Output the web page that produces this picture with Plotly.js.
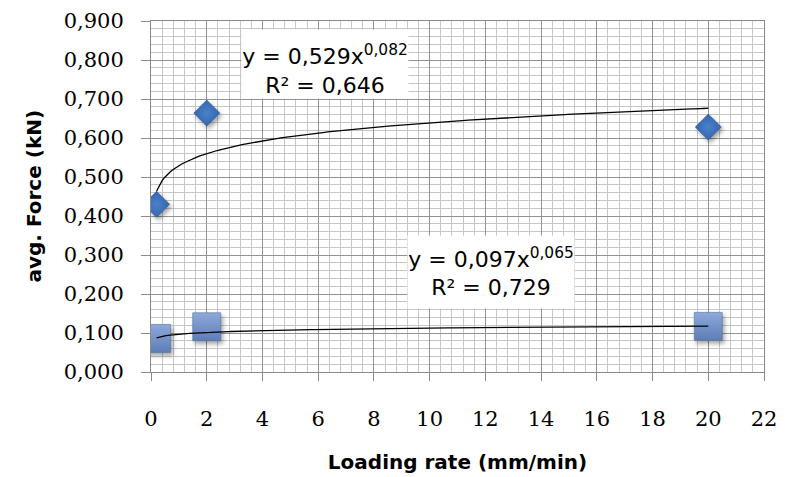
<!DOCTYPE html>
<html>
<head>
<meta charset="utf-8">
<script src="https://cdn.plot.ly/plotly-3.0.1.min.js"></script>
<style>
  html, body { margin: 0; padding: 0; background: #ffffff; }
  #chart { width: 792px; height: 477px; }
  /* soft drop shadow under the data markers */
  #chart .scatterlayer .points path { filter: drop-shadow(2px 3px 2px rgba(0,0,0,0.35)); }
</style>
</head>
<body>
<div id="chart"></div>
<script>
// Loading rate (mm/min)
const loadingRate = [0.2, 2, 20];
// average maximum force (kN)
const forceUpper = [0.430, 0.664, 0.628];
// average force of the second series (kN)
const forceLower = [0.086, 0.116, 0.117];

// power-law trendlines y = a * x^b, as reported on the chart
const fitUpper = { a: 0.529, b: 0.082 };
const fitLower = { a: 0.097, b: 0.065 };
const fitUpperLabel = 'y = 0,529x<sup>0,082</sup><br>R² = 0,646';
const fitLowerLabel = 'y = 0,097x<sup>0,065</sup><br>R² = 0,729';

const xTitle = 'Loading rate (mm/min)';
const yTitle = 'avg. Force (kN)';

const xTicks = [0, 2, 4, 6, 8, 10, 12, 14, 16, 18, 20, 22];
const yTicks = [0, 0.1, 0.2, 0.3, 0.4, 0.5, 0.6, 0.7, 0.8, 0.9];

// sample a fitted power curve across the measured range of x
function powerCurve(fit, xs) {
  const lo = Math.min(...xs), hi = Math.max(...xs);
  const n = 200, px = [], py = [];
  for (let i = 0; i <= n; i++) {
    const x = lo + (hi - lo) * i / n;
    px.push(x);
    py.push(fit.a * Math.pow(x, fit.b));
  }
  return { x: px, y: py };
}

const curveUpper = powerCurve(fitUpper, loadingRate);
const curveLower = powerCurve(fitLower, loadingRate);

const traces = [
  {
    x: loadingRate, y: forceUpper, type: 'scatter', mode: 'markers',
    marker: { symbol: 'diamond', size: 20, color: '#3466AE',
              gradient: { type: 'radial', color: '#4A82CA' },
              line: { width: 0.6, color: '#2A5592' } },
    hoverinfo: 'x+y', showlegend: false
  },
  {
    x: loadingRate, y: forceLower, type: 'scatter', mode: 'markers',
    marker: { symbol: 'square', size: 28, color: '#8EA9DA',
              gradient: { type: 'vertical', color: '#5E7DB7' },
              line: { width: 0.6, color: '#56729F' } },
    hoverinfo: 'x+y', showlegend: false
  },
  {
    x: curveUpper.x, y: curveUpper.y, type: 'scatter', mode: 'lines',
    line: { color: '#000000', width: 1.3 }, hoverinfo: 'skip', showlegend: false
  },
  {
    x: curveLower.x, y: curveLower.y, type: 'scatter', mode: 'lines',
    line: { color: '#000000', width: 1.3 }, hoverinfo: 'skip', showlegend: false
  }
];

const tickFont = { family: 'DejaVu Serif, Liberation Serif, serif', size: 21, color: '#000000' };
const titleFont = { family: 'DejaVu Sans, Liberation Sans, sans-serif', size: 20, color: '#000000', weight: 'bold' };
const noteFont = { family: 'DejaVu Sans, Liberation Sans, sans-serif', size: 22, color: '#000000' };

const layout = {
  width: 792, height: 477,
  margin: { l: 151, r: 28, t: 21, b: 105 },
  paper_bgcolor: '#ffffff', plot_bgcolor: '#ffffff',
  separators: ', ',
  xaxis: {
    range: [0, 22], tickvals: xTicks, ticktext: xTicks.map(String),
    showgrid: true, gridcolor: '#929292', gridwidth: 1,
    minor: { dtick: 0.4, showgrid: true, gridcolor: '#c6c6c6', gridwidth: 1 },
    showline: true, linecolor: '#8a8a8a', linewidth: 1, mirror: true,
    ticks: 'outside', ticklen: 8, tickcolor: '#8a8a8a',
    ticklabelstandoff: 20,
    tickfont: tickFont, zeroline: false,
    title: { text: xTitle, font: titleFont, standoff: 24 }
  },
  yaxis: {
    range: [0, 0.9], tickvals: yTicks, tickformat: '.3f',
    showgrid: true, gridcolor: '#929292', gridwidth: 1,
    minor: { dtick: 0.02, showgrid: true, gridcolor: '#c6c6c6', gridwidth: 1 },
    showline: true, linecolor: '#8a8a8a', linewidth: 1, mirror: true,
    ticks: 'outside', ticklen: 9, tickcolor: '#8a8a8a',
    ticklabelstandoff: 13,
    tickfont: tickFont, zeroline: false
  },
  annotations: [
    {
      x: 6.25, y: 0.789, xref: 'x', yref: 'y', text: fitUpperLabel,
      showarrow: false, font: noteFont, align: 'center', valign: 'bottom',
      bgcolor: '#ffffff', width: 166, height: 68, borderpad: 0
    },
    {
      x: 12.2, y: 0.257, xref: 'x', yref: 'y', text: fitLowerLabel,
      showarrow: false, font: noteFont, align: 'center',
      bgcolor: '#ffffff', width: 166, height: 72, borderpad: 0
    },
    {
      // vertical axis title, set well to the left of the tick labels
      x: 0, y: 0.5, xref: 'paper', yref: 'paper', xanchor: 'center', yanchor: 'middle',
      xshift: -118, text: yTitle, textangle: -90, showarrow: false, font: titleFont
    }
  ]
};

Plotly.newPlot('chart', traces, layout, { displayModeBar: false, staticPlot: true });
</script>
</body>
</html>
